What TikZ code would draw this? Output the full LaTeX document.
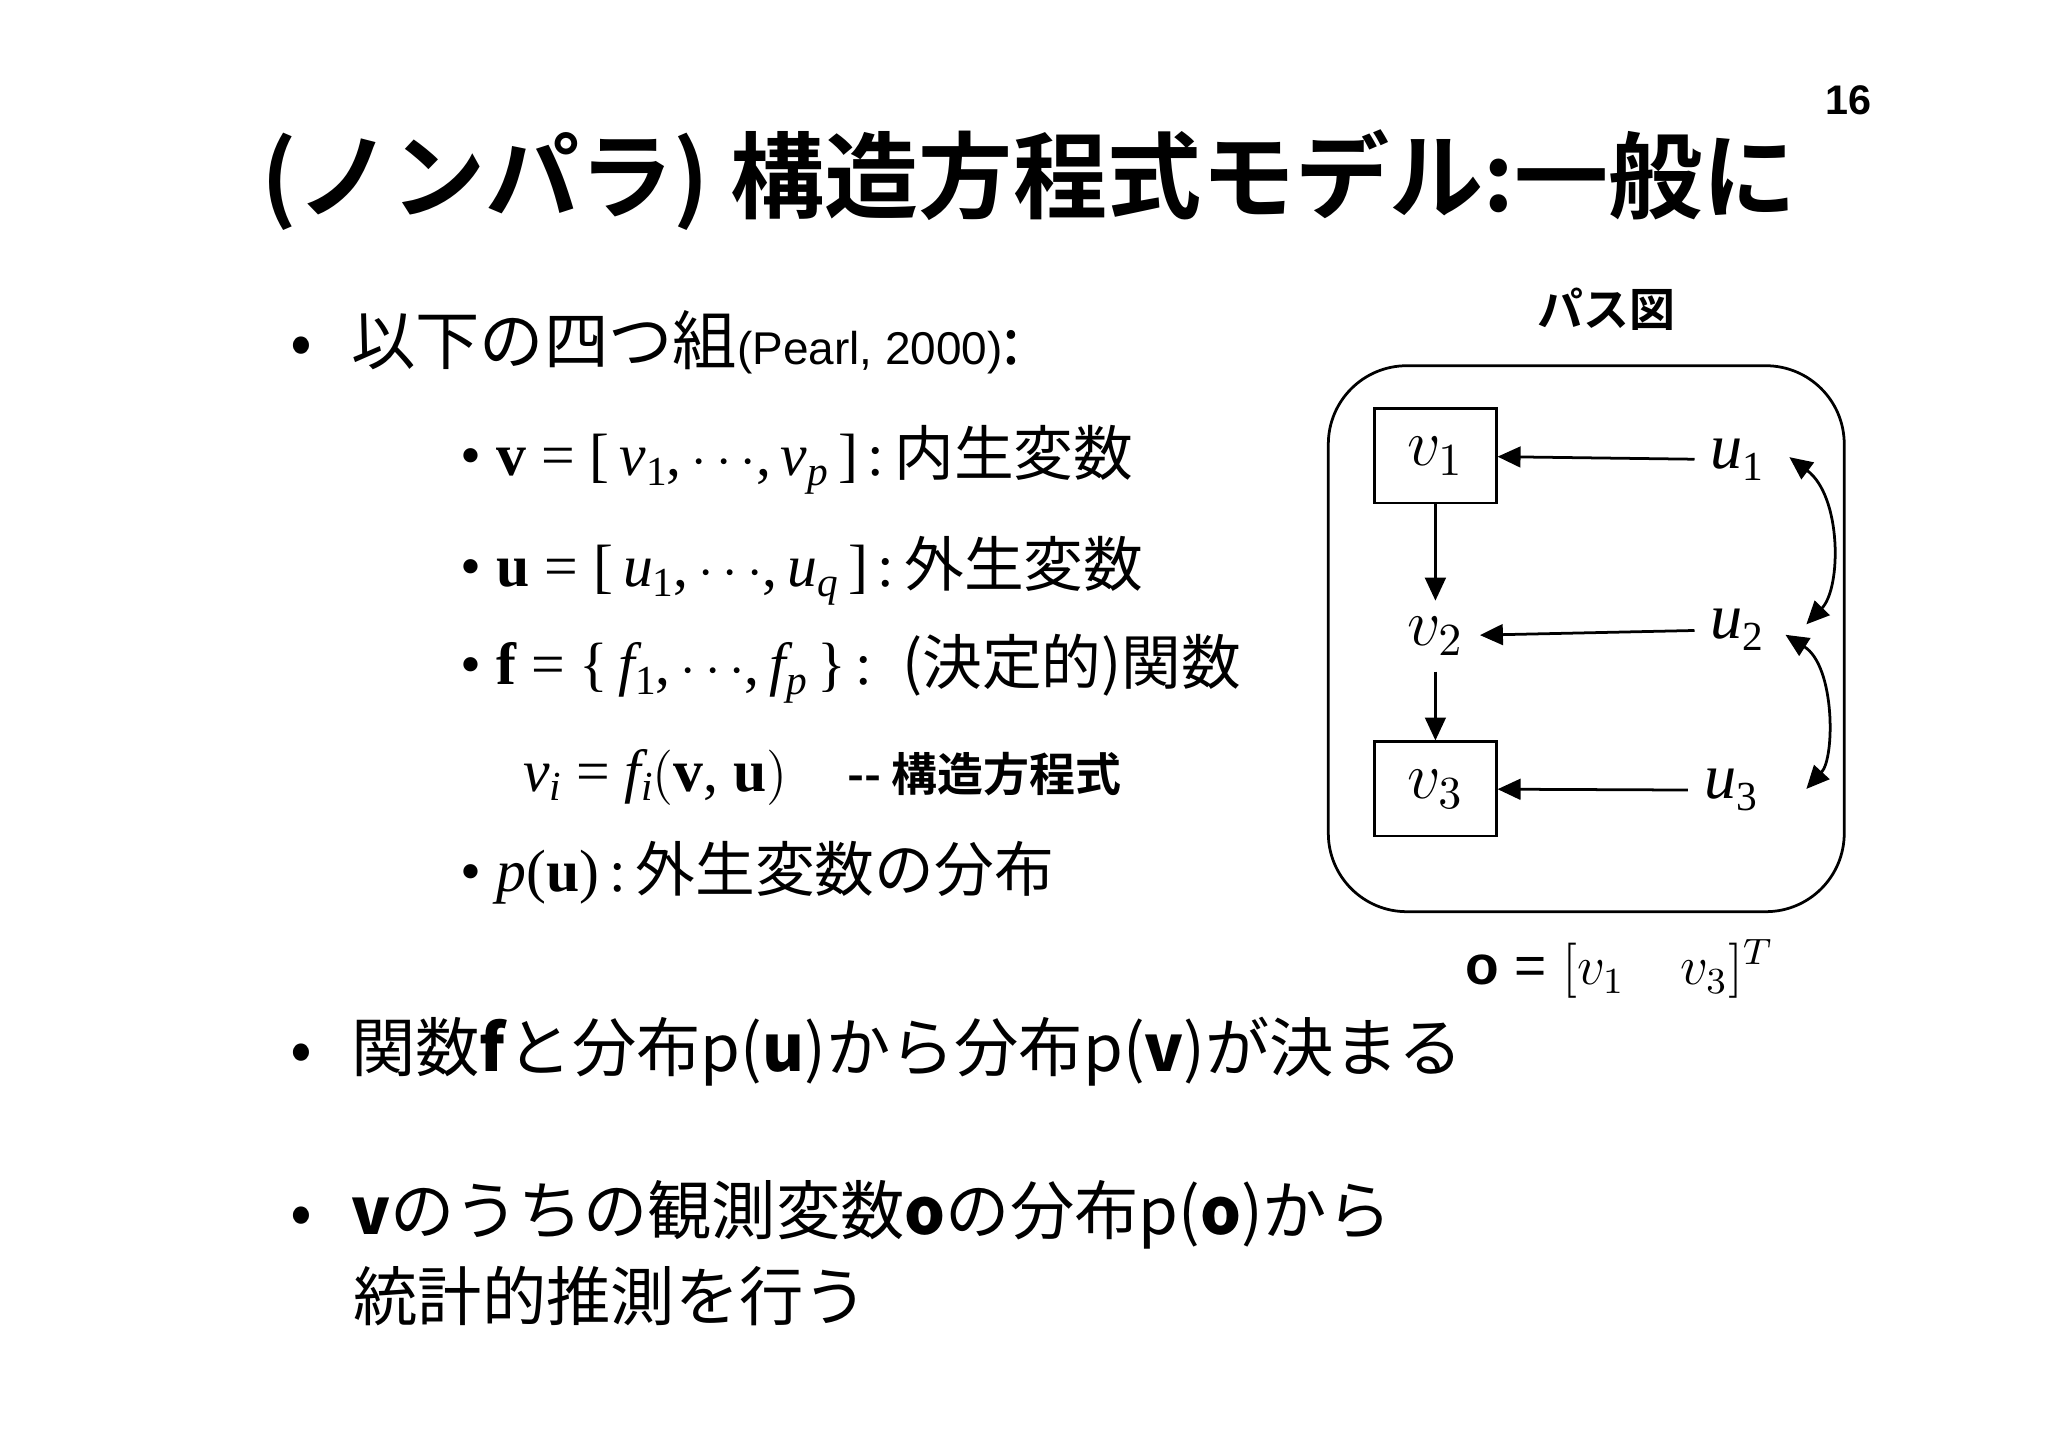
\documentclass[tikz,border=0pt]{standalone}
\usepackage{fontspec}
\setmainfont{Liberation Sans}
\newfontfamily\jp{Noto Sans CJK JP}
\newfontfamily\jpb{Noto Sans CJK JP}[BoldFont={* Bold},UprightFont={* Bold}]
\newfontfamily\tms{Liberation Serif}
\usetikzlibrary{arrows.meta}
\newcommand{\ti}[1]{{\tms\itshape #1}}
\newcommand{\tb}[1]{{\tms\bfseries #1}}
\newcommand{\sbs}[1]{\raisebox{-0.35ex}{\tms\fontsize{9}{10}\selectfont #1}}
\begin{document}
\begin{tikzpicture}[x=0.01cm,y=-0.01cm,
  body/.style={anchor=west,font=\fontsize{14}{16}\selectfont\jp,inner sep=0},
  item/.style={anchor=west,font=\fontsize{13}{15}\selectfont\tms,inner sep=0},
  ar/.style={-{Triangle[length=5pt,width=4.5pt]},line width=0.6pt},
  vb/.style={draw,line width=0.6pt,minimum width=0.93cm,minimum height=0.72cm},
  dv/.style={font=\fontsize{14}{16}\selectfont}]
\useasboundingbox (0,0) rectangle (1568,1108);
\node[font=\bfseries\fontsize{9}{10}\selectfont] (pg) at (1415,77) {16};
\node[font=\fontsize{20.5}{23}\selectfont\jpb] (title) at (788,138) {(ノンパラ) 構造方程式モデル:一般に};
\node[body] (b1) at (222,262) {•\hspace{0.6em}以下の四つ組{\fontsize{10}{11}\selectfont\rmfamily (Pearl, 2000)}:};
\node[item] (i1) at (352,352) {\textbullet\ \tb{v} = [\,\ti{v}\sbs{1},\,$\cdots$,\,\ti{v}\sbs{\itshape p}\,]\,:\,{\jp 内生変数}};
\node[item] (i2) at (352,437) {\textbullet\ \tb{u} = [\,\ti{u}\sbs{1},\,$\cdots$,\,\ti{u}\sbs{\itshape q}\,]\,:\,{\jp 外生変数}};
\node[item] (i3) at (352,512) {\textbullet\ \tb{f} = \{\,\ti{f}\sbs{1},\,$\cdots$,\,\ti{f}\sbs{\itshape p}\,\}\,:\ \ {\jp (決定的)関数}};
\node[item] (i4) at (400,595) {\ti{v}\sbs{\itshape i} = \ti{f}\sbs{\itshape i}\big(\tb{v}, \tb{u}\big)\quad{\fontsize{10}{11}\selectfont\jpb -- 構造方程式}};
\node[item] (i5) at (352,668) {\textbullet\ \ti{p}(\tb{u})\,:\,{\jp 外生変数の分布}};
\node[font=\fontsize{10}{11}\selectfont\jpb] (pz) at (1230,237) {パス図};
\draw[line width=0.6pt,rounded corners=0.6cm] (1017,280) rectangle (1412,698);
\node[vb,dv] (v1) at (1099,349) {$v_1$};
\node[dv] (v2) at (1099,487) {$v_2$};
\node[vb,dv] (v3) at (1099,604) {$v_3$};
\node[dv] (u1) at (1330,352) {\ti{u}\sbs{1}};
\node[dv] (u2) at (1330,482) {\ti{u}\sbs{2}};
\node[dv] (u3) at (1325,605) {\ti{u}\sbs{3}};
\draw[ar] (u1) -- (v1);
\draw[ar] (u2) -- (v2);
\draw[ar] (u3) -- (v3);
\draw[ar] (v1) -- (v2);
\draw[ar] (v2) -- (v3);
\coordinate (a1) at (1370,350);
\coordinate (a2) at (1383,478);
\coordinate (a3) at (1367,486);
\coordinate (a4) at (1383,604);
\draw[{Triangle[length=5pt,width=4.5pt]}-{Triangle[length=5pt,width=4.5pt]},line width=0.6pt] (a1) .. controls (1410,380) and (1410,450) .. (a2);
\draw[{Triangle[length=5pt,width=4.5pt]}-{Triangle[length=5pt,width=4.5pt]},line width=0.6pt] (a3) .. controls (1405,510) and (1405,580) .. (a4);
\node[font=\fontsize{12}{14}\selectfont] (o) at (1240,742) {\textbf{o} = $[v_1\quad v_3]^T$};
\node[body] (b2) at (222,805) {•\hspace{0.6em}関数\textbf{f}と分布p(\textbf{u})から分布p(\textbf{v})が決まる};
\node[body] (b3) at (222,930) {•\hspace{0.6em}\textbf{v}のうちの観測変数\textbf{o}の分布p(\textbf{o})から};
\node[body] (b4) at (270,992) {統計的推測を行う};
\end{tikzpicture}
\end{document}
